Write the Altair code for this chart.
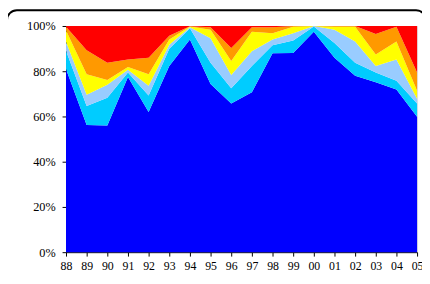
import altair as alt
import pandas as pd

years = ["88", "89", "90", "91", "92", "93", "94", "95", "96", "97",
         "98", "99", "00", "01", "02", "03", "04", "05"]
series = ["S1", "S2", "S3", "S4", "S5", "S6"]
colors = ["#0000FF", "#00CCFF", "#99CCFF", "#FFFF00", "#FF9900", "#FF0000"]

s1 = [81, 56.2, 56, 77.5, 62, 82.3, 94, 74.3, 65.7, 70.7, 88, 88.1, 97.5, 86, 78, 75.1, 71.9, 59.9]
s2 = [8, 8.4, 12.3, 1.9, 7.3, 7.6, 5, 9.5, 6.8, 11.6, 3.5, 5.5, 2.3, 6.5, 5.8, 4.3, 3.9, 5.8]
s3 = [4, 5.0, 5.7, 1.2, 4.3, 1.8, 0.5, 10.8, 5.8, 6.5, 2.5, 3.2, 0.2, 5.8, 9.4, 2.9, 9.4, 2.1]
s4 = [5, 9.1, 2.1, 1.3, 5.1, 2.3, 0.3, 3.7, 6.2, 8.7, 2.8, 2.9, 0, 1.4, 6.5, 5.1, 8, 3.6]
s5 = [1.7, 10.6, 7.7, 3.3, 7.3, 1.7, 0.1, 1.1, 5.8, 1.9, 2.7, 0.3, 0, 0.3, 0.3, 9.1, 6.5, 8]
s6 = [0.3, 10.7, 16.2, 14.8, 14, 4.3, 0.1, 0.6, 9.7, 0.6, 0.5, 0, 0, 0, 0, 3.5, 0.3, 20.6]

rows = []
for k, (name, vals) in enumerate(zip(series, [s1, s2, s3, s4, s5, s6])):
    for yr, v in zip(years, vals):
        rows.append({"year": yr, "series": name, "value": v, "ord": k})
df = pd.DataFrame(rows)

FONT = "Liberation Serif"

area = alt.Chart(df).mark_area(interpolate="linear").encode(
    x=alt.X("year:O", sort=years,
            scale=alt.Scale(type="point", padding=0),
            axis=alt.Axis(title=None, labelAngle=0, tickSize=4, labelPadding=5,
                          domainColor="black", tickColor="black",
                          labelFont=FONT, labelFontSize=12, labelColor="black")),
    y=alt.Y("value:Q", stack="normalize",
            scale=alt.Scale(domain=[0, 1]),
            axis=alt.Axis(title=None, values=[0, 0.2, 0.4, 0.6, 0.8, 1.0], format=".0%",
                          grid=False, tickSize=4, labelPadding=7,
                          domainColor="black", tickColor="black",
                          labelFont=FONT, labelFontSize=12.5, labelColor="black")),
    color=alt.Color("series:N", scale=alt.Scale(domain=series, range=colors), legend=None),
    order=alt.Order("ord:Q", sort="ascending"),
)

border = alt.Chart(alt.Data(values=[{}])).mark_rect(
    fill="transparent", stroke="black", strokeWidth=2, cornerRadius=10, clip=False
).encode(
    x=alt.value(-60), x2=alt.value(366), y=alt.value(-16), y2=alt.value(276)
)

chart = alt.layer(border, area).properties(
    width=357, height=230,
    autosize=alt.AutoSizeParams(type="none"),
    padding={"left": 59, "top": 16, "right": 5, "bottom": 26},
).configure_view(stroke="#808080", strokeWidth=1).configure(background="white")

chart.save("out.html", embed_options={"renderer": "svg", "actions": False})
